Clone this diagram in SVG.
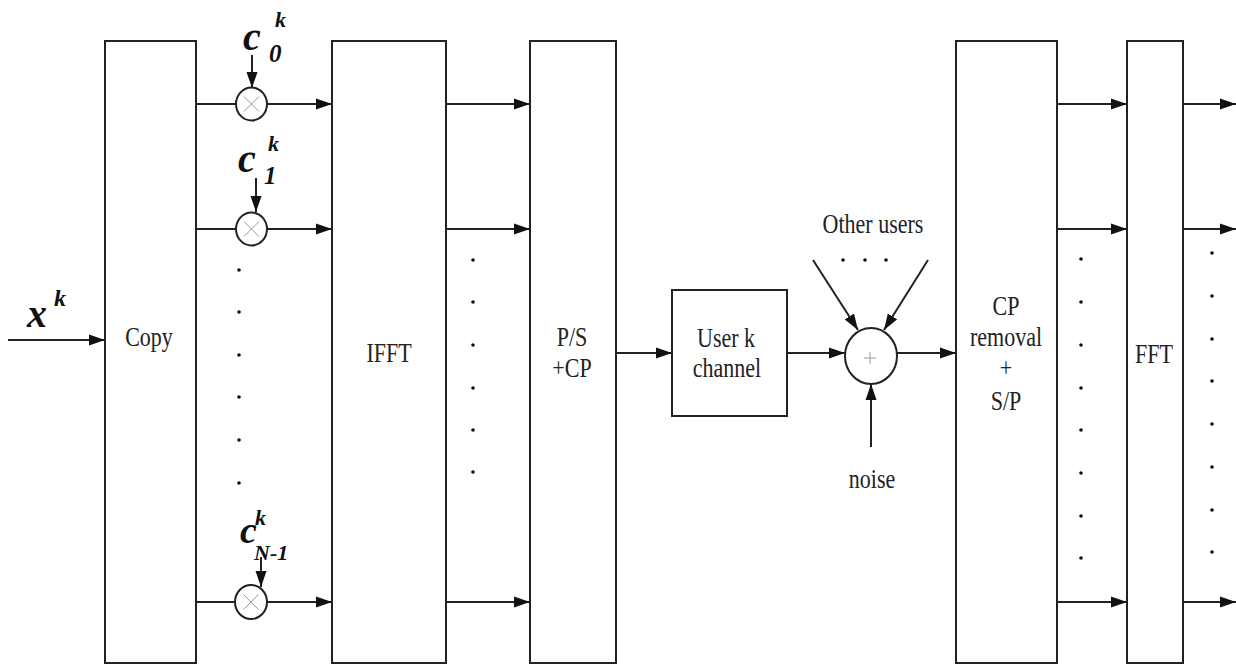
<svg xmlns="http://www.w3.org/2000/svg" width="1236" height="667" viewBox="0 0 1236 667">
<style>
.box{fill:#fff;stroke:#222;stroke-width:2}
.ln{fill:none;stroke:#222;stroke-width:2}
.t{font-family:"Liberation Serif","Times New Roman",serif;font-size:22px;fill:#222;text-anchor:middle}
.m{font-family:"Liberation Serif","Times New Roman",serif;font-style:italic;font-weight:bold;fill:#111}
.dot{fill:#111}
.op{fill:#fff;stroke:#222;stroke-width:2}
.opm{stroke:#999;stroke-width:1;fill:none}
</style>
<defs>
<marker id="ah" markerUnits="userSpaceOnUse" markerWidth="17" markerHeight="12" refX="16" refY="6" orient="auto">
<path d="M0,0.5 L16,6 L0,11.5 z" fill="#111"/>
</marker>
</defs>
<rect width="1236" height="667" fill="#fff"/>

<g id="connectors">
<line class="ln" x1="8" y1="340" x2="105" y2="340" marker-end="url(#ah)"/>
<line class="ln" x1="196" y1="104" x2="236" y2="104"/>
<line class="ln" x1="267" y1="104" x2="332" y2="104" marker-end="url(#ah)"/>
<line class="ln" x1="196" y1="229" x2="236" y2="229"/>
<line class="ln" x1="267" y1="229" x2="332" y2="229" marker-end="url(#ah)"/>
<line class="ln" x1="196" y1="602" x2="235" y2="602"/>
<line class="ln" x1="267" y1="602" x2="332" y2="602" marker-end="url(#ah)"/>
<line class="ln" x1="252" y1="55" x2="252" y2="88" marker-end="url(#ah)"/>
<line class="ln" x1="256" y1="178" x2="256" y2="212" marker-end="url(#ah)"/>
<line class="ln" x1="261" y1="557" x2="261" y2="587" marker-end="url(#ah)"/>
<line class="ln" x1="446" y1="104" x2="530" y2="104" marker-end="url(#ah)"/>
<line class="ln" x1="446" y1="229" x2="530" y2="229" marker-end="url(#ah)"/>
<line class="ln" x1="446" y1="602" x2="530" y2="602" marker-end="url(#ah)"/>
<line class="ln" x1="616" y1="353" x2="672" y2="353" marker-end="url(#ah)"/>
<line class="ln" x1="787" y1="353" x2="845" y2="353" marker-end="url(#ah)"/>
<line class="ln" x1="813" y1="260" x2="858" y2="330" marker-end="url(#ah)"/>
<line class="ln" x1="928" y1="260" x2="884" y2="330" marker-end="url(#ah)"/>
<line class="ln" x1="871" y1="447" x2="871" y2="384" marker-end="url(#ah)"/>
<line class="ln" x1="897" y1="353" x2="956" y2="353" marker-end="url(#ah)"/>
<line class="ln" x1="1057" y1="104" x2="1127" y2="104" marker-end="url(#ah)"/>
<line class="ln" x1="1057" y1="229" x2="1127" y2="229" marker-end="url(#ah)"/>
<line class="ln" x1="1057" y1="602" x2="1127" y2="602" marker-end="url(#ah)"/>
<line class="ln" x1="1183" y1="104" x2="1236" y2="104" marker-end="url(#ah)"/>
<line class="ln" x1="1183" y1="229" x2="1236" y2="229" marker-end="url(#ah)"/>
<line class="ln" x1="1183" y1="602" x2="1236" y2="602" marker-end="url(#ah)"/>
</g>

<g id="input-label">
<text class="m" x="27" y="327" font-size="40">x</text>
<text class="m" x="54" y="306" font-size="24">k</text>
</g>

<g id="copy">
<rect class="box" x="105" y="41" width="91" height="622"/>
<text class="t" transform="translate(149,346) scale(1,1.25)">Copy</text>
</g>

<g id="mult0">
<ellipse class="op" cx="251.5" cy="104" rx="15.5" ry="16.5"/>
<path class="opm" d="M244,96.5 L259,111.5 M259,96.5 L244,111.5"/>
<text class="m" x="243" y="50" font-size="40">c</text>
<text class="m" x="269" y="62" font-size="25">0</text>
<text class="m" x="275" y="27" font-size="22">k</text>
</g>

<g id="mult1">
<ellipse class="op" cx="251.5" cy="229" rx="15.5" ry="16.5"/>
<path class="opm" d="M244,221.5 L259,236.5 M259,221.5 L244,236.5"/>
<text class="m" x="238" y="172" font-size="40">c</text>
<text class="m" x="264" y="184" font-size="25">1</text>
<text class="m" x="268" y="151" font-size="22">k</text>
</g>

<g id="multN">
<ellipse class="op" cx="251" cy="602" rx="16" ry="17"/>
<path class="opm" d="M243.5,594.5 L258.5,609.5 M258.5,594.5 L243.5,609.5"/>
<text class="m" x="240" y="543" font-size="38">c</text>
<text class="m" x="254" y="560" font-size="22">N-1</text>
<text class="m" x="255" y="525" font-size="22">k</text>
</g>

<g id="dots1">
<circle class="dot" cx="239" cy="270" r="1.8"/>
<circle class="dot" cx="239" cy="312" r="1.8"/>
<circle class="dot" cx="239" cy="355" r="1.8"/>
<circle class="dot" cx="239" cy="397" r="1.8"/>
<circle class="dot" cx="239" cy="440" r="1.8"/>
<circle class="dot" cx="239" cy="483" r="1.8"/>
</g>

<g id="ifft">
<rect class="box" x="332" y="41" width="114" height="622"/>
<text class="t" transform="translate(389,362) scale(1,1.25)">IFFT</text>
</g>

<g id="dots2">
<circle class="dot" cx="473" cy="260" r="1.8"/>
<circle class="dot" cx="473" cy="302" r="1.8"/>
<circle class="dot" cx="473" cy="345" r="1.8"/>
<circle class="dot" cx="473" cy="388" r="1.8"/>
<circle class="dot" cx="473" cy="430" r="1.8"/>
<circle class="dot" cx="473" cy="472" r="1.8"/>
</g>

<g id="ps">
<rect class="box" x="530" y="41" width="86" height="622"/>
<text class="t" transform="translate(572,346) scale(1,1.25)">P/S</text>
<text class="t" transform="translate(572,377) scale(1,1.25)">+CP</text>
</g>

<g id="channel">
<rect class="box" x="672" y="290" width="115" height="126"/>
<text class="t" transform="translate(726,347) scale(1,1.25)">User k</text>
<text class="t" transform="translate(727,377) scale(1,1.25)">channel</text>
</g>

<g id="sum">
<ellipse class="op" cx="871" cy="356" rx="26" ry="28"/>
<path class="opm" d="M870,352 L870,364 M864,358 L876,358"/>
</g>

<g id="other-users">
<text class="t" transform="translate(873,233) scale(1,1.25)">Other users</text>
<circle class="dot" cx="843" cy="260" r="1.8"/>
<circle class="dot" cx="865" cy="260" r="1.8"/>
<circle class="dot" cx="886" cy="260" r="1.8"/>
</g>

<g id="noise">
<text class="t" transform="translate(872,488) scale(1,1.25)">noise</text>
</g>

<g id="cpremoval">
<rect class="box" x="956" y="41" width="101" height="622"/>
<text class="t" transform="translate(1006,315) scale(1,1.25)">CP</text>
<text class="t" transform="translate(1006,346) scale(1,1.25)">removal</text>
<text class="t" transform="translate(1006,377) scale(1,1.25)">+</text>
<text class="t" transform="translate(1006,410) scale(1,1.25)">S/P</text>
</g>

<g id="dots3">
<circle class="dot" cx="1081" cy="259" r="1.8"/>
<circle class="dot" cx="1081" cy="302" r="1.8"/>
<circle class="dot" cx="1081" cy="345" r="1.8"/>
<circle class="dot" cx="1081" cy="388" r="1.8"/>
<circle class="dot" cx="1081" cy="430" r="1.8"/>
<circle class="dot" cx="1081" cy="473" r="1.8"/>
<circle class="dot" cx="1081" cy="516" r="1.8"/>
<circle class="dot" cx="1081" cy="558" r="1.8"/>
</g>

<g id="fft">
<rect class="box" x="1127" y="41" width="56" height="622"/>
<text class="t" transform="translate(1154,363) scale(1,1.25)">FFT</text>
</g>

<g id="dots4">
<circle class="dot" cx="1212" cy="253" r="1.8"/>
<circle class="dot" cx="1212" cy="296" r="1.8"/>
<circle class="dot" cx="1212" cy="339" r="1.8"/>
<circle class="dot" cx="1212" cy="381" r="1.8"/>
<circle class="dot" cx="1212" cy="424" r="1.8"/>
<circle class="dot" cx="1212" cy="467" r="1.8"/>
<circle class="dot" cx="1212" cy="510" r="1.8"/>
<circle class="dot" cx="1212" cy="552" r="1.8"/>
</g>
</svg>
